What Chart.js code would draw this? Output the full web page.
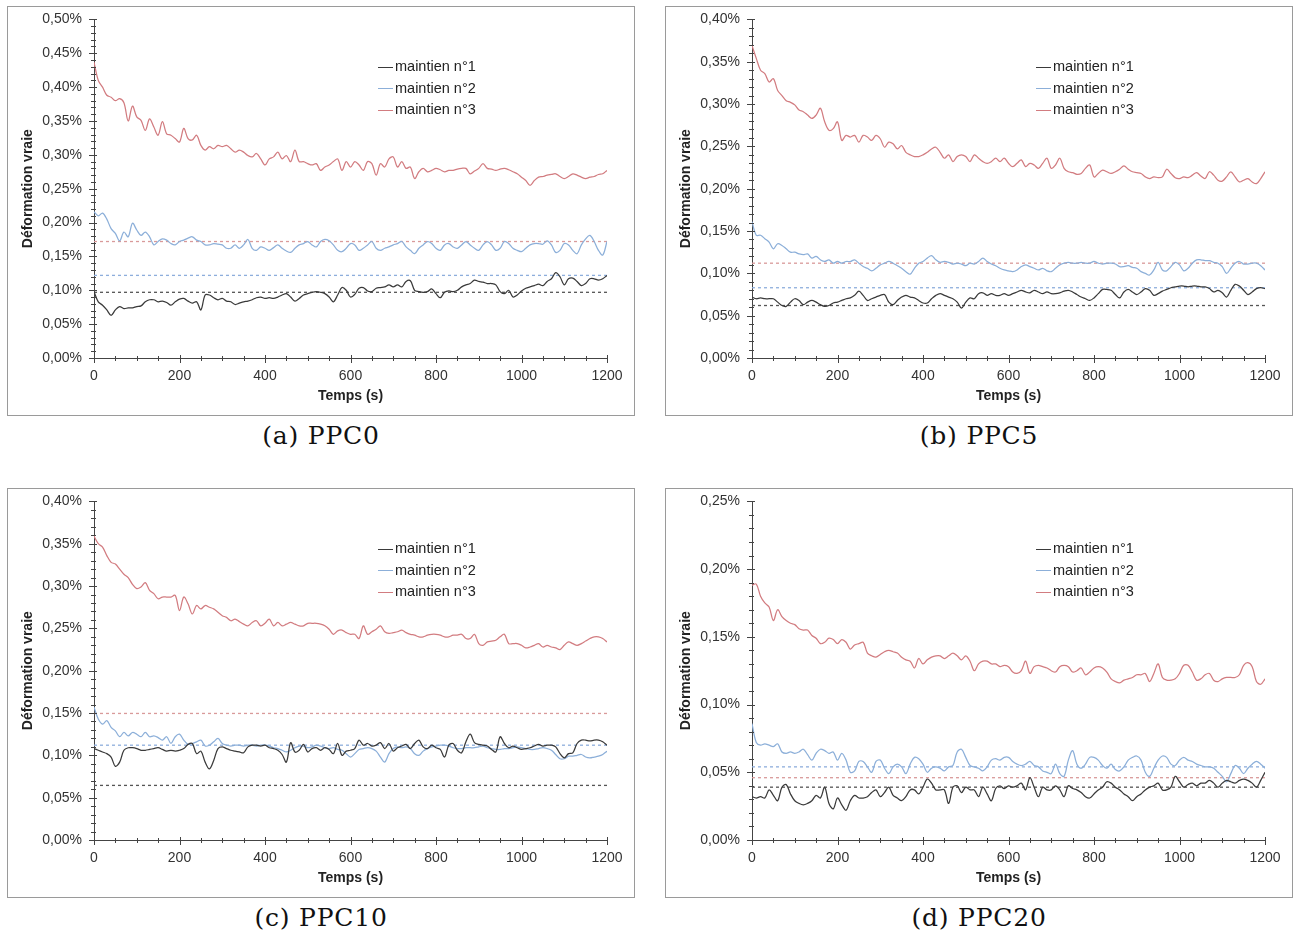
<!DOCTYPE html>
<html>
<head>
<meta charset="utf-8">
<script src="https://cdn.jsdelivr.net/npm/chart.js@4.4.1/dist/chart.umd.min.js"></script>
<style>
    body { margin: 0; background: #fff; width: 1293px; height: 943px; position: relative; overflow: hidden; }
    .panel { position: absolute; box-sizing: border-box; width: 628px; height: 410px; border: 1px solid #9a9a9a; background: #fff; }
    /* the y tick padding also pads the top of the chart area, so the canvas starts a bit above the frame */
    .plot { position: absolute; left: 0; top: -8px; width: 626px; height: 416px; }
    .legend { position: absolute; left: 370px; top: 49px; font: 14.5px 'Liberation Sans', Arial, sans-serif; color: #222; line-height: 21.5px; }
    .legend span.sw { display: inline-block; width: 15px; height: 0; border-top: 1.5px solid; vertical-align: middle; margin-right: 2px; }
    .caption { position: absolute; width: 628px; text-align: center; font: 25px 'DejaVu Serif', serif; letter-spacing: 0.8px; color: #111; }
</style>
</head>
<body>
<div class="panel" style="left:7px;top:6px"><div class="plot"><canvas id="chartA"></canvas></div><div class="legend" id="legA"></div></div>
<div class="panel" style="left:665px;top:6px"><div class="plot"><canvas id="chartB"></canvas></div><div class="legend" id="legB"></div></div>
<div class="panel" style="left:7px;top:488px"><div class="plot"><canvas id="chartC"></canvas></div><div class="legend" id="legC"></div></div>
<div class="panel" style="left:665px;top:488px"><div class="plot"><canvas id="chartD"></canvas></div><div class="legend" id="legD"></div></div>
<div class="caption" style="left:7px;top:421px">(a) PPC0</div>
<div class="caption" style="left:665px;top:421px">(b) PPC5</div>
<div class="caption" style="left:7px;top:903px">(c) PPC10</div>
<div class="caption" style="left:665px;top:903px">(d) PPC20</div>
<script>
// Temps (s), une mesure toutes les 10 s
const temps = [0,10,20,30,40,50,60,70,80,90,100,110,120,130,140,150,160,170,180,190,
    200,210,220,230,240,250,260,270,280,290,300,310,320,330,340,350,360,370,380,390,
    400,410,420,430,440,450,460,470,480,490,500,510,520,530,540,550,560,570,580,590,
    600,610,620,630,640,650,660,670,680,690,700,710,720,730,740,750,760,770,780,790,
    800,810,820,830,840,850,860,870,880,890,900,910,920,930,940,950,960,970,980,990,
    1000,1010,1020,1030,1040,1050,1060,1070,1080,1090,1100,1110,1120,1130,1140,1150,1160,1170,1180,1190,1200];

const seriesLabels = ['maintien n°1', 'maintien n°2', 'maintien n°3'];
const seriesColors = ['#3a3a3a', '#8cafd9', '#d27c80'];
const refColors = ['#555555', '#8eaedc', '#d99a9a'];
const yMaxes = [0.5, 0.4, 0.4, 0.25];

// Déformation vraie (%) - PPC0
const ppc0_n1 = [.098,.083,.078,.071,.063,.071,.076,.073,.074,.074,
    .076,.077,.083,.086,.086,.083,.084,.082,.078,.083,
    .087,.088,.084,.081,.083,.071,.093,.093,.089,.086,
    .088,.084,.083,.079,.081,.083,.084,.086,.089,.090,
    .088,.089,.088,.090,.093,.095,.090,.084,.088,.093,
    .095,.097,.098,.097,.095,.090,.083,.093,.104,.100,
    .090,.094,.103,.104,.099,.098,.103,.104,.105,.108,
    .105,.108,.105,.113,.114,.100,.098,.097,.098,.102,
    .095,.089,.097,.099,.098,.100,.105,.108,.110,.115,
    .113,.112,.110,.110,.108,.098,.095,.100,.090,.093,
    .099,.103,.105,.107,.109,.107,.113,.117,.126,.120,
    .108,.117,.118,.113,.107,.110,.117,.117,.115,.117,.122];
const ppc0_n2 = [.216,.210,.214,.205,.191,.184,.173,.186,.179,.199,
    .189,.181,.186,.179,.167,.172,.176,.174,.169,.167,
    .172,.174,.177,.179,.174,.172,.167,.167,.169,.168,
    .167,.162,.162,.167,.162,.167,.175,.162,.159,.164,
    .162,.159,.163,.167,.162,.158,.156,.162,.167,.169,
    .172,.167,.164,.172,.175,.173,.167,.159,.157,.162,
    .169,.167,.159,.162,.167,.172,.162,.159,.162,.164,
    .167,.169,.172,.164,.159,.154,.162,.167,.172,.169,
    .162,.159,.167,.169,.164,.162,.167,.172,.167,.162,
    .159,.167,.172,.167,.159,.162,.172,.169,.162,.159,
    .157,.162,.167,.169,.169,.168,.173,.167,.156,.159,
    .169,.167,.159,.154,.167,.176,.181,.172,.159,.152,.172];
const ppc0_n3 = [.437,.410,.400,.388,.385,.380,.383,.377,.350,.372,
    .356,.351,.336,.353,.341,.329,.349,.331,.329,.324,
    .319,.339,.324,.322,.329,.314,.307,.312,.309,.314,
    .312,.314,.309,.304,.307,.304,.299,.297,.302,.294,
    .285,.294,.297,.304,.294,.299,.290,.307,.290,.290,
    .287,.285,.287,.277,.282,.285,.290,.294,.277,.290,
    .282,.290,.285,.277,.290,.287,.270,.287,.282,.294,
    .297,.282,.290,.280,.282,.265,.275,.280,.275,.277,
    .280,.278,.275,.277,.277,.279,.280,.280,.272,.276,
    .280,.287,.280,.279,.277,.279,.280,.278,.275,.272,
    .267,.262,.255,.262,.267,.268,.270,.271,.272,.268,
    .265,.268,.272,.270,.267,.265,.267,.268,.271,.272,.277];
const ppc0_ref = [0.097, 0.122, 0.172];

// PPC5
const ppc5_n1 = [.072,.070,.071,.070,.070,.070,.066,.062,.061,.066,
    .070,.068,.063,.066,.068,.066,.063,.061,.062,.065,
    .066,.068,.070,.071,.074,.079,.074,.068,.070,.072,
    .074,.075,.066,.063,.068,.072,.074,.072,.071,.068,
    .065,.065,.070,.074,.076,.074,.072,.070,.066,.059,
    .066,.071,.070,.076,.077,.074,.076,.074,.074,.076,
    .074,.076,.078,.080,.078,.077,.080,.078,.076,.078,
    .076,.076,.077,.079,.080,.078,.075,.072,.070,.068,
    .071,.076,.081,.081,.080,.075,.071,.078,.081,.078,
    .075,.078,.082,.080,.074,.076,.079,.081,.083,.084,
    .085,.085,.084,.085,.085,.084,.084,.082,.078,.080,
    .077,.072,.080,.087,.085,.080,.075,.078,.082,.083,.082];
const ppc5_n2 = [.161,.145,.145,.141,.137,.129,.135,.133,.129,.125,
    .125,.123,.122,.123,.118,.120,.116,.114,.116,.112,
    .114,.112,.114,.114,.116,.112,.108,.106,.103,.106,
    .110,.112,.114,.112,.109,.106,.102,.099,.106,.112,
    .114,.118,.121,.116,.113,.114,.113,.111,.112,.111,
    .109,.112,.111,.114,.118,.114,.111,.109,.106,.104,
    .103,.102,.104,.108,.110,.108,.106,.104,.106,.103,
    .102,.106,.110,.112,.113,.112,.112,.113,.112,.112,
    .114,.112,.111,.112,.112,.111,.108,.108,.109,.107,
    .106,.102,.100,.098,.104,.113,.104,.103,.108,.113,
    .110,.103,.106,.112,.116,.116,.115,.115,.113,.112,
    .108,.100,.106,.112,.114,.111,.111,.112,.112,.109,.104];
const ppc5_n3 = [.369,.354,.340,.336,.326,.330,.316,.310,.304,.302,
    .299,.293,.291,.287,.283,.287,.295,.279,.269,.271,
    .279,.257,.263,.261,.263,.255,.263,.261,.257,.263,
    .259,.249,.255,.253,.247,.251,.243,.240,.238,.238,
    .240,.243,.247,.249,.243,.236,.240,.232,.238,.240,
    .238,.232,.240,.236,.232,.230,.232,.236,.232,.236,
    .230,.226,.230,.234,.226,.230,.228,.224,.230,.236,
    .224,.228,.236,.224,.220,.219,.217,.218,.224,.228,
    .214,.218,.222,.220,.218,.220,.223,.227,.223,.220,
    .219,.218,.214,.212,.214,.213,.214,.223,.218,.213,
    .212,.214,.213,.216,.219,.215,.212,.220,.216,.210,
    .209,.214,.220,.214,.208,.210,.212,.208,.206,.212,.220];
const ppc5_ref = [0.062, 0.083, 0.112];

// PPC10
const ppc10_n1 = [.108,.106,.104,.102,.098,.087,.092,.106,.109,.109,
    .108,.106,.106,.107,.108,.109,.107,.105,.106,.105,
    .106,.108,.113,.114,.102,.105,.092,.084,.094,.108,
    .110,.108,.106,.105,.104,.103,.110,.112,.112,.111,
    .112,.109,.108,.106,.101,.092,.115,.104,.106,.113,
    .104,.108,.109,.106,.109,.107,.102,.114,.100,.105,
    .106,.108,.118,.112,.114,.111,.112,.115,.108,.114,
    .105,.109,.111,.113,.108,.114,.118,.110,.108,.112,
    .109,.107,.098,.112,.114,.106,.103,.116,.125,.115,
    .113,.112,.111,.107,.104,.122,.114,.109,.111,.109,
    .107,.108,.109,.111,.113,.111,.112,.112,.110,.102,
    .097,.102,.103,.114,.118,.118,.117,.118,.118,.116,.112];
const ppc10_n2 = [.157,.143,.137,.141,.133,.129,.122,.127,.123,.127,
    .125,.122,.127,.122,.123,.121,.118,.122,.114,.122,
    .125,.118,.113,.114,.116,.118,.111,.112,.116,.120,
    .114,.112,.111,.112,.112,.111,.112,.112,.111,.112,
    .112,.111,.109,.108,.106,.104,.106,.109,.111,.111,
    .109,.110,.112,.111,.109,.108,.109,.107,.106,.102,
    .098,.102,.107,.108,.109,.108,.105,.098,.092,.102,
    .108,.110,.109,.110,.108,.102,.100,.105,.108,.110,
    .111,.112,.112,.111,.109,.108,.108,.109,.109,.109,
    .110,.111,.109,.108,.107,.107,.108,.108,.109,.110,
    .109,.108,.107,.107,.108,.109,.108,.106,.101,.096,
    .096,.099,.099,.100,.101,.098,.097,.098,.099,.101,.105];
const ppc10_n3 = [.359,.350,.346,.336,.328,.326,.320,.314,.310,.302,
    .297,.299,.304,.295,.291,.285,.287,.287,.287,.289,
    .271,.287,.279,.267,.277,.273,.277,.275,.273,.269,
    .265,.263,.259,.261,.258,.255,.253,.257,.259,.253,
    .256,.261,.253,.257,.253,.255,.257,.255,.253,.253,
    .256,.256,.256,.255,.253,.249,.243,.247,.248,.245,
    .243,.243,.238,.253,.243,.246,.249,.253,.246,.244,
    .245,.246,.248,.245,.243,.242,.240,.240,.242,.243,
    .243,.242,.240,.240,.242,.242,.243,.238,.238,.243,
    .232,.230,.234,.235,.236,.240,.243,.232,.232,.232,
    .230,.227,.228,.230,.232,.228,.230,.228,.227,.225,
    .230,.234,.232,.230,.232,.235,.238,.240,.240,.238,.234];
const ppc10_ref = [0.0645, 0.112, 0.1495];

// PPC20
const ppc20_n1 = [.032,.031,.032,.031,.037,.033,.029,.039,.041,.034,
    .029,.027,.026,.027,.029,.033,.031,.039,.027,.023,
    .031,.026,.022,.029,.033,.031,.031,.032,.035,.037,
    .032,.035,.039,.033,.031,.029,.032,.037,.037,.034,
    .039,.045,.042,.037,.037,.037,.027,.039,.040,.035,
    .039,.037,.037,.032,.039,.034,.029,.038,.040,.038,
    .040,.039,.040,.042,.037,.046,.039,.032,.039,.037,
    .037,.040,.037,.032,.040,.038,.037,.035,.032,.031,
    .034,.037,.039,.043,.042,.039,.037,.034,.032,.029,
    .032,.034,.037,.039,.040,.042,.037,.037,.039,.047,
    .043,.039,.041,.042,.040,.042,.042,.044,.042,.039,
    .042,.044,.043,.042,.044,.045,.044,.042,.039,.044,.050];
const ppc20_n2 = [.086,.072,.070,.071,.070,.069,.071,.065,.064,.065,
    .064,.065,.067,.063,.059,.064,.067,.066,.064,.065,
    .059,.064,.059,.050,.051,.058,.058,.054,.050,.058,
    .059,.053,.049,.054,.056,.054,.049,.056,.061,.060,
    .056,.050,.053,.054,.053,.051,.054,.055,.065,.067,
    .061,.055,.054,.053,.051,.054,.059,.060,.059,.061,
    .061,.058,.056,.055,.056,.058,.055,.054,.051,.050,
    .049,.056,.049,.047,.059,.066,.056,.053,.056,.061,
    .061,.059,.055,.053,.056,.052,.051,.054,.059,.061,
    .062,.059,.050,.047,.053,.059,.062,.061,.056,.055,
    .059,.061,.059,.058,.056,.055,.054,.054,.053,.050,
    .047,.043,.049,.055,.053,.049,.053,.056,.058,.056,.053];
const ppc20_n3 = [.188,.189,.180,.175,.172,.162,.170,.165,.162,.160,
    .159,.156,.155,.155,.151,.149,.145,.146,.149,.148,
    .145,.148,.146,.141,.144,.145,.146,.138,.136,.135,
    .137,.139,.140,.139,.138,.135,.133,.132,.127,.134,
    .130,.133,.135,.136,.136,.134,.136,.138,.136,.133,
    .136,.132,.125,.130,.132,.132,.130,.130,.128,.129,
    .128,.124,.123,.125,.132,.123,.128,.129,.128,.127,
    .125,.124,.128,.129,.128,.124,.125,.127,.122,.124,
    .127,.128,.127,.124,.119,.117,.116,.118,.119,.120,
    .122,.122,.123,.117,.123,.130,.120,.118,.118,.119,
    .123,.129,.129,.124,.118,.119,.122,.123,.118,.117,
    .119,.120,.120,.120,.122,.129,.131,.128,.117,.115,.119];
const ppc20_ref = [0.039, 0.054, 0.046];

const FONT = "'Liberation Sans', Arial, sans-serif";

// Graduations secondaires + tirets croisant les axes
const axisTicks = {
    id: 'axisTicks',
    afterDraw(chart) {
        const { ctx, scales: { x, y } } = chart;
        ctx.save();
        ctx.strokeStyle = '#444';
        ctx.lineWidth = 1;
        ctx.beginPath();
        const n = Math.round(y.max / 0.01);
        for (let i = 0; i <= n; i++) {
            const py = Math.round(y.getPixelForValue(i * 0.01)) + 0.5;
            const major = i % 5 === 0;
            ctx.moveTo(x.left - (major ? 5 : 3), py);
            ctx.lineTo(x.left + (major ? 3 : 2), py);
        }
        for (let i = 0; i <= 24; i++) {
            const px = Math.round(x.getPixelForValue(i * 50)) + 0.5;
            const major = i % 4 === 0;
            ctx.moveTo(px, y.bottom - (major ? 3 : 2));
            ctx.lineTo(px, y.bottom + (major ? 5 : 3));
        }
        ctx.stroke();
        ctx.restore();
    }
};

function toPoints(values) {
    return values.map((v, i) => ({ x: temps[i], y: v }));
}

function makeChart(canvasId, yMax, series, refs) {
    const datasets = series.map((s, i) => ({
        label: seriesLabels[i],
        data: toPoints(s),
        borderColor: seriesColors[i],
        borderWidth: 1.25,
        pointRadius: 0,
        tension: 0.35,
        fill: false
    }));
    refs.forEach((r, i) => {
        datasets.push({
            label: 'ref' + i,
            data: [{ x: 0, y: r }, { x: 1200, y: r }],
            borderColor: refColors[i],
            borderWidth: 1.3,
            borderDash: [3, 3],
            pointRadius: 0,
            fill: false
        });
    });
    return new Chart(document.getElementById(canvasId), {
        type: 'line',
        data: { datasets },
        plugins: [axisTicks],
        options: {
            responsive: true, maintainAspectRatio: false,
            animation: false,
            layout: { padding: { left: 0, right: 27, top: 4, bottom: 0 } },
            plugins: { legend: { display: false }, tooltip: { enabled: false } },
            scales: {
                x: {
                    type: 'linear', min: 0, max: 1200,
                    afterFit: s => { s.height = 57; },
                    grid: { display: false, drawTicks: false },
                    border: { display: true, color: '#444', width: 1 },
                    ticks: { stepSize: 200, autoSkip: false, maxRotation: 0, padding: 10, color: '#333',
                        font: { family: FONT, size: 14 }, callback: v => String(v) },
                    title: { display: true, text: 'Temps (s)', color: '#222', padding: { top: 0, bottom: 10 },
                        font: { family: FONT, size: 14, weight: 'bold' } }
                },
                y: {
                    min: 0, max: yMax,
                    afterFit: s => { s.width = 86; },
                    grid: { display: false, drawTicks: false },
                    border: { display: true, color: '#444', width: 1 },
                    ticks: { stepSize: 0.05, padding: 12, color: '#333',
                        font: { family: FONT, size: 14 }, callback: v => v.toFixed(2).replace('.', ',') + '%' },
                    title: { display: true, text: 'Déformation vraie', color: '#222', padding: { top: 12, bottom: 0 },
                        font: { family: FONT, size: 14, weight: 'bold' } }
                }
            }
        }
    });
}

function renderLegend(id) {
    const el = document.getElementById(id);
    el.innerHTML = seriesLabels.map((l, i) =>
        `<div><span class="sw" style="border-color:${seriesColors[i]}"></span>${l}</div>`).join('');
}

makeChart('chartA', yMaxes[0], [ppc0_n1, ppc0_n2, ppc0_n3], ppc0_ref);
makeChart('chartB', yMaxes[1], [ppc5_n1, ppc5_n2, ppc5_n3], ppc5_ref);
makeChart('chartC', yMaxes[2], [ppc10_n1, ppc10_n2, ppc10_n3], ppc10_ref);
makeChart('chartD', yMaxes[3], [ppc20_n1, ppc20_n2, ppc20_n3], ppc20_ref);
['legA', 'legB', 'legC', 'legD'].forEach(renderLegend);
</script>
</body>
</html>
